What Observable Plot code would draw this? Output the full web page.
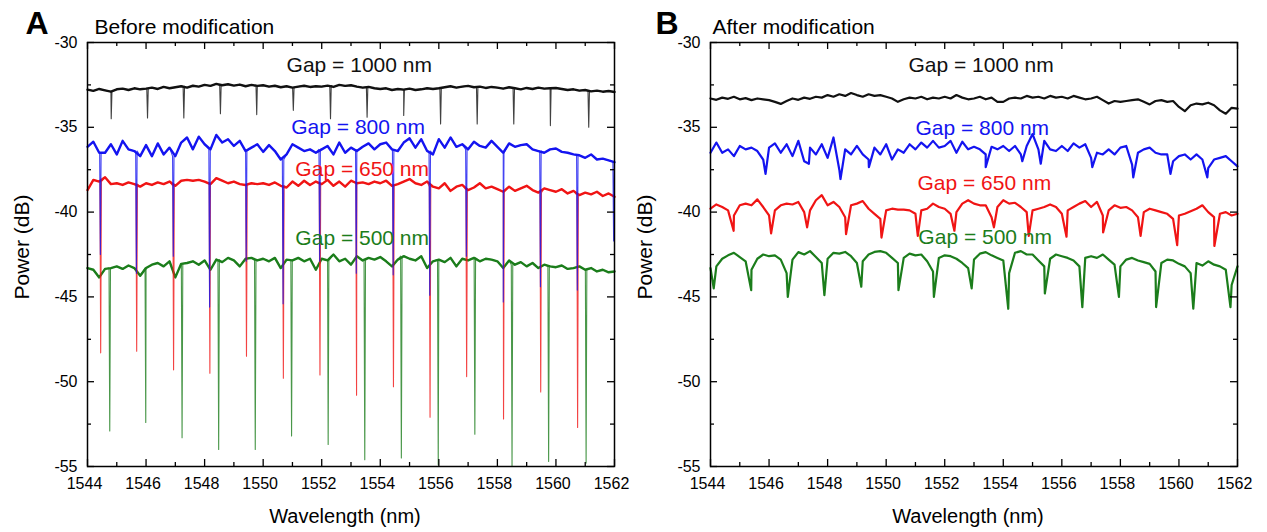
<!DOCTYPE html>
<html><head><meta charset="utf-8">
<script src="https://cdn.jsdelivr.net/npm/d3@7"></script>
<script src="https://cdn.jsdelivr.net/npm/@observablehq/plot@0.6"></script>
<style>
html,body{margin:0;padding:0;background:#fff;}
#wrap{position:relative;width:1267px;height:532px;overflow:hidden;font-family:"Liberation Sans",Arial,sans-serif;color:#000;}
.panel{position:absolute;top:0;}
.ytitle{position:absolute;font-size:21px;white-space:nowrap;transform:translate(-50%,-50%) rotate(-90deg);}
</style></head>
<body><div id="wrap"></div>
<script>
// ---------- sampling grid (nm) ----------
const xStart = 1544, xStep = 0.2;   // baseline values are read every 0.2 nm
const xMajor = [1544,1546,1548,1550,1552,1554,1556,1558,1560,1562];
const xMinor = [1545,1547,1549,1551,1553,1555,1557,1559,1561];
const yMajor = [-55,-50,-45,-40,-35,-30];
const yMinor = [-52.5,-47.5,-42.5,-37.5,-32.5];
const gapLabels = ["Gap = 1000 nm","Gap = 800 nm","Gap = 650 nm","Gap = 500 nm"];

// ---------- Panel A: before modification ----------
const aBlack = [
-32.78,-32.85,-32.74,-32.82,-32.9,-32.76,-32.72,-32.8,-32.7,-32.76,
-32.72,-32.66,-32.74,-32.62,-32.7,-32.64,-32.58,-32.66,-32.55,-32.6,
-32.5,-32.56,-32.44,-32.52,-32.46,-32.54,-32.48,-32.58,-32.5,-32.56,
-32.52,-32.6,-32.55,-32.64,-32.58,-32.66,-32.6,-32.55,-32.62,-32.58,
-32.6,-32.54,-32.62,-32.5,-32.56,-32.52,-32.6,-32.66,-32.62,-32.7,
-32.74,-32.7,-32.8,-32.74,-32.78,-32.72,-32.8,-32.76,-32.7,-32.74,
-32.7,-32.64,-32.58,-32.66,-32.6,-32.56,-32.64,-32.6,-32.68,-32.62,
-32.66,-32.72,-32.64,-32.7,-32.76,-32.68,-32.74,-32.66,-32.72,-32.7,
-32.68,-32.74,-32.8,-32.76,-32.84,-32.8,-32.88,-32.84,-32.9,-32.86,
-32.92];
const aBlackDips = [[1544.81,-34.5],[1546.05,-34.45],[1547.29,-34.45],[1548.54,-34.2],[1549.78,-34.25],[1551.03,-34.0],[1552.30,-34.5],[1553.55,-34.4],[1554.80,-34.3],[1556.06,-34.8],[1557.31,-34.8],[1558.56,-34.8],[1559.81,-34.9],[1561.12,-35.0]];

const aBlue = [
-36.15,-35.85,-36.5,-36.5,-36.0,-36.6,-35.8,-36.3,-36.4,-36.7,
-36.05,-36.7,-35.95,-36.6,-36.2,-36.7,-35.9,-35.6,-36.3,-35.55,
-36.0,-36.3,-35.45,-35.9,-35.7,-36.1,-35.8,-36.4,-36.2,-36.0,
-36.45,-36.05,-36.4,-36.9,-36.6,-36.0,-36.2,-36.4,-36.3,-36.5,
-36.3,-36.1,-36.6,-35.9,-36.5,-36.2,-36.4,-36.15,-35.95,-36.3,
-36.0,-35.9,-36.3,-36.4,-35.9,-35.65,-36.2,-35.7,-36.4,-36.6,
-35.7,-36.2,-35.6,-36.15,-36.0,-36.3,-35.85,-36.1,-36.2,-35.8,
-36.15,-36.5,-35.95,-36.15,-36.05,-36.0,-36.3,-36.4,-36.5,-36.3,
-36.25,-36.45,-36.5,-36.6,-36.65,-36.8,-36.6,-36.9,-36.85,-36.95,
-37.05];
const aBlueDips = [[1544.44,-42.5],[1545.67,-43.6],[1546.93,-42.6],[1548.17,-45.6],[1549.42,-42.9],[1550.68,-45.4],[1551.93,-42.9],[1553.18,-43.6],[1554.44,-43.7],[1555.69,-44.9],[1556.94,-42.6],[1558.20,-45.3],[1559.47,-44.4],[1560.73,-44.6],[1561.97,-41.7]];

const aRed = [
-38.7,-38.1,-38.2,-37.95,-38.35,-38.3,-38.4,-38.25,-38.35,-38.5,
-38.3,-38.4,-38.25,-38.35,-38.2,-38.45,-38.15,-38.1,-38.15,-38.1,
-38.2,-38.35,-38.0,-38.15,-38.3,-38.2,-38.35,-38.4,-38.3,-38.35,
-38.3,-38.4,-38.25,-38.45,-38.55,-38.2,-38.45,-38.15,-38.4,-38.2,
-38.35,-38.1,-38.45,-38.2,-38.5,-38.15,-38.3,-38.25,-38.35,-38.2,
-38.3,-38.15,-38.45,-38.35,-38.2,-38.05,-38.3,-38.4,-38.2,-38.5,
-38.6,-38.3,-38.75,-38.5,-38.4,-38.7,-38.55,-38.3,-38.6,-38.5,
-38.65,-38.8,-38.5,-38.75,-38.6,-38.45,-38.7,-38.85,-38.6,-38.7,
-38.8,-38.65,-38.9,-38.75,-39.0,-38.85,-38.95,-38.8,-39.05,-38.9,
-39.1];
const aRedDips = [[1544.45,-48.3],[1545.68,-48.2],[1546.94,-49.3],[1548.18,-49.5],[1549.43,-48.5],[1550.69,-49.8],[1551.94,-49.6],[1553.19,-50.8],[1554.45,-50.3],[1555.70,-52.1],[1556.95,-49.7],[1558.21,-52.2],[1559.48,-50.6],[1560.74,-52.7]];

const aGreen = [
-43.3,-43.4,-43.85,-43.35,-43.3,-43.2,-43.35,-43.15,-43.3,-43.75,
-43.3,-43.1,-43.0,-43.2,-42.9,-43.85,-43.05,-43.0,-42.9,-43.1,
-42.85,-43.4,-42.8,-42.95,-42.7,-42.85,-43.2,-42.75,-42.7,-42.85,
-42.75,-42.9,-42.7,-43.3,-42.8,-42.85,-42.7,-42.9,-42.75,-43.4,
-42.75,-42.85,-42.5,-42.9,-42.75,-43.1,-42.6,-42.85,-42.7,-42.8,
-42.65,-42.9,-43.2,-42.8,-42.6,-42.75,-42.85,-42.6,-43.3,-42.9,
-42.8,-42.95,-42.7,-43.2,-42.75,-42.85,-42.7,-42.9,-42.75,-42.8,
-42.9,-43.3,-42.85,-43.1,-42.95,-43.2,-43.0,-43.3,-43.1,-43.2,
-43.25,-43.15,-43.35,-43.3,-43.2,-43.4,-43.3,-43.5,-43.4,-43.55,
-43.5];
const aGreenDips = [[1544.76,-52.9],[1545.99,-52.4],[1547.23,-53.3],[1548.48,-54.0],[1549.73,-54.0],[1550.97,-53.2],[1552.22,-53.7],[1553.47,-54.6],[1554.72,-54.5],[1555.98,-54.9],[1557.23,-53.1],[1558.50,-55.0],[1559.75,-54.7],[1561.03,-54.8]];

// ---------- Panel B: after modification ----------
const bBlack = [
-33.3,-33.38,-33.25,-33.32,-33.2,-33.35,-33.28,-33.4,-33.3,-33.35,
-33.4,-33.5,-33.62,-33.45,-33.3,-33.38,-33.25,-33.32,-33.2,-33.25,
-33.1,-33.2,-33.05,-33.15,-32.98,-33.1,-33.2,-33.05,-33.15,-33.1,
-33.2,-33.3,-33.5,-33.35,-33.25,-33.3,-33.2,-33.35,-33.25,-33.3,
-33.2,-33.3,-33.1,-33.25,-33.35,-33.3,-33.2,-33.35,-33.25,-33.5,
-33.5,-33.3,-33.25,-33.3,-33.15,-33.25,-33.2,-33.3,-33.15,-33.25,
-33.2,-33.3,-33.15,-33.25,-33.35,-33.3,-33.2,-33.4,-33.6,-33.45,
-33.5,-33.45,-33.4,-33.35,-33.5,-33.65,-33.45,-33.4,-33.5,-33.45,
-33.8,-34.05,-33.7,-33.6,-33.65,-33.55,-33.7,-34.0,-34.2,-33.85,
-33.9];
const bBlackDips = [];

const bBlue = [
-36.5,-35.9,-36.5,-36.3,-36.7,-36.1,-36.3,-36.2,-36.4,-36.9,
-36.2,-35.95,-36.5,-36.0,-36.7,-35.8,-37.0,-36.2,-36.6,-36.0,
-36.8,-35.6,-37.5,-36.3,-36.6,-36.1,-36.6,-36.9,-36.2,-36.6,
-36.0,-36.9,-36.3,-36.5,-36.0,-36.3,-35.9,-36.2,-35.8,-36.2,
-36.1,-35.8,-36.5,-35.85,-36.3,-36.15,-36.3,-36.6,-36.15,-36.3,
-36.1,-36.4,-36.1,-36.6,-36.1,-35.4,-36.3,-35.8,-36.3,-36.4,
-36.1,-36.4,-35.95,-36.2,-36.0,-36.8,-36.5,-36.6,-36.3,-36.6,
-36.2,-36.1,-37.2,-36.5,-36.3,-36.2,-36.5,-36.6,-36.6,-37.0,
-36.7,-36.6,-36.9,-36.6,-36.9,-37.4,-36.9,-36.8,-36.7,-37.0,
-37.3];
const bBlueDips = [[1545.88,-37.75],[1547.36,-37.15],[1548.44,-38.05],[1549.41,-37.35],[1553.40,-37.35],[1554.65,-37.0],[1555.28,-37.15],[1557.04,-37.35],[1558.44,-37.95],[1559.71,-37.75],[1560.97,-37.95]];

const bRed = [
-39.8,-39.55,-39.7,-39.9,-40.2,-39.6,-39.5,-39.6,-39.25,-39.7,
-40.2,-39.9,-39.6,-39.5,-39.55,-39.4,-40.0,-39.9,-39.3,-39.0,
-39.6,-39.4,-39.7,-40.3,-39.6,-39.5,-39.35,-39.8,-40.1,-40.4,
-39.9,-39.8,-39.85,-39.85,-39.9,-40.1,-39.9,-39.8,-39.5,-39.7,
-39.8,-40.1,-40.0,-39.5,-39.3,-39.5,-39.6,-39.6,-40.3,-39.7,
-39.3,-39.5,-39.45,-39.7,-40.0,-39.9,-39.8,-39.7,-39.55,-39.7,
-40.1,-39.9,-39.7,-39.5,-39.35,-39.7,-39.4,-40.2,-39.9,-39.6,
-39.75,-39.7,-39.9,-40.3,-40.0,-39.8,-39.9,-40.0,-40.1,-40.4,
-40.2,-40.1,-39.95,-39.8,-39.6,-40.0,-40.3,-40.1,-40.0,-40.2,
-40.1];
const bRedDips = [[1544.79,-41.1],[1546.07,-41.25],[1547.30,-40.9],[1548.63,-41.3],[1549.84,-41.5],[1551.08,-41.4],[1552.33,-41.1],[1553.68,-40.9],[1554.87,-41.4],[1556.16,-41.45],[1557.41,-41.2],[1558.69,-41.4],[1559.94,-41.95],[1561.21,-42.0]];

const bGreen = [
-43.3,-43.2,-42.75,-42.55,-42.4,-42.65,-42.9,-43.4,-42.75,-42.5,
-42.6,-42.55,-42.8,-43.6,-42.8,-42.36,-42.5,-42.3,-42.65,-43.0,
-42.75,-42.4,-42.45,-42.35,-42.6,-43.0,-42.9,-42.5,-42.35,-42.3,
-42.4,-42.7,-43.0,-42.7,-42.45,-42.55,-42.5,-42.9,-43.5,-42.7,
-42.55,-42.6,-42.75,-43.0,-43.3,-42.8,-42.45,-42.36,-42.55,-42.7,
-42.85,-43.6,-42.4,-42.3,-42.5,-42.5,-42.85,-43.2,-42.75,-42.5,
-42.6,-42.7,-42.85,-43.2,-42.7,-42.6,-42.7,-42.5,-42.8,-43.1,
-43.2,-42.8,-42.7,-42.85,-42.95,-43.05,-43.5,-43.0,-42.8,-42.85,
-43.05,-43.2,-43.6,-43.0,-43.15,-42.9,-43.1,-43.2,-43.4,-44.3,
-43.2];
const bGreenDips = [[1544.11,-44.5],[1545.39,-44.6],[1546.64,-45.0],[1547.89,-44.9],[1549.15,-44.4],[1550.42,-44.6],[1551.63,-45.0],[1552.92,-44.5],[1554.17,-45.7],[1555.42,-44.8],[1556.70,-45.6],[1557.95,-45.0],[1559.22,-45.6],[1560.49,-45.7],[1561.76,-45.6]];

// ---------- styling ----------
const C = {black:"#111111", blue:"#1414f0", red:"#f01414", green:"#1b7d1b"};

const panels = [
  {letter:"A", title:"Before modification", left:0, width:633, letterDx:-62, titleDx:7,
   sharp:true, thin:1.1, thick:2.4,
   series:[
     {values:aBlack, dips:aBlackDips, color:C.black},
     {values:aGreen, dips:aGreenDips, color:C.green},
     {values:aRed, dips:aRedDips, color:C.red},
     {values:aBlue, dips:aBlueDips, color:C.blue}],
   labels:[[1550.8,-31.35,C.black],[1550.96,-35.0,C.blue],[1551.1,-37.5,C.red],[1551.1,-41.55,C.green]]},
  {letter:"B", title:"After modification", left:623, width:644, letterDx:-55, titleDx:2,
   sharp:false, thin:2.2, thick:0,
   series:[
     {values:bBlack, dips:bBlackDips, color:C.black},
     {values:bGreen, dips:bGreenDips, color:C.green},
     {values:bRed, dips:bRedDips, color:C.red},
     {values:bBlue, dips:bBlueDips, color:C.blue}],
   labels:[[1550.76,-31.35,C.black],[1551.0,-35.05,C.blue],[1551.07,-38.3,C.red],[1551.1,-41.5,C.green]]}
];

// join the read baseline samples and the read resonance minima into one trace
function trace(values, dips, sharp) {
  const base = values.map((y, i) => ({x: xStart + i * xStep, y}));
  const pts = base.slice();
  for (const [x, y] of dips) {
    if (sharp) {
      // very narrow resonance: leave from / return to the level of the nearest read sample
      const top = values[Math.round((x - xStart) / xStep)];
      pts.push({x: x - 0.025, y: top}, {x, y}, {x: x + 0.025, y: top});
    } else {
      pts.push({x, y});
    }
  }
  pts.sort((a, b) => a.x - b.x);
  return {base, pts};
}

function makePanel(p) {
  const H = 532, mL = 87, mT = 42, mB = 66, fw = 527;
  const mR = p.width - mL - fw;
  const fh = H - mT - mB;
  const marks = [];
  for (const s of p.series) {
    const {base, pts} = trace(s.values, s.dips, p.sharp);
    marks.push(Plot.line(pts, {x: "x", y: "y", stroke: s.color, strokeWidth: p.thin, strokeOpacity: p.sharp ? 0.8 : 1, strokeLinejoin: "round"}));
    if (p.thick) marks.push(Plot.line(base, {x: "x", y: "y", stroke: s.color, strokeWidth: p.thick, strokeLinejoin: "round"}));
  }
  // inward ticks on all four sides
  const tk = {stroke: "#000", strokeWidth: 1.3};
  marks.push(Plot.tickX(xMajor, {x: d => d, insetTop: fh - 7, ...tk}));
  marks.push(Plot.tickX(xMajor, {x: d => d, insetBottom: fh - 7, ...tk}));
  marks.push(Plot.tickX(xMinor, {x: d => d, insetTop: fh - 4, ...tk}));
  marks.push(Plot.tickX(xMinor, {x: d => d, insetBottom: fh - 4, ...tk}));
  marks.push(Plot.tickY(yMajor, {y: d => d, insetRight: fw - 7, ...tk}));
  marks.push(Plot.tickY(yMajor, {y: d => d, insetLeft: fw - 7, ...tk}));
  marks.push(Plot.tickY(yMinor, {y: d => d, insetRight: fw - 4, ...tk}));
  marks.push(Plot.tickY(yMinor, {y: d => d, insetLeft: fw - 4, ...tk}));
  marks.push(Plot.axisX({ticks: xMajor, tickSize: 0, tickPadding: 11, tickFormat: d => String(d), label: null, fontSize: 16, dx: -3}));
  marks.push(Plot.axisY({ticks: yMajor, tickSize: 0, tickPadding: 10, tickFormat: d => String(d), label: null, fontSize: 16}));
  marks.push(Plot.frame({stroke: "#000", strokeWidth: 1.5}));
  p.labels.forEach(([x, y, c], i) => {
    marks.push(Plot.text([gapLabels[i]], {x: () => x, y: () => y, text: d => d, fill: c, fontSize: 21, textAnchor: "start", lineAnchor: "middle"}));
  });
  marks.push(Plot.text([p.letter], {frameAnchor: "top-left", text: d => d, dx: p.letterDx, dy: -9, lineAnchor: "bottom", textAnchor: "start", fontSize: 32, fontWeight: "bold", fill: "#000"}));
  marks.push(Plot.text([p.title], {frameAnchor: "top-left", text: d => d, dx: p.titleDx, dy: -9, lineAnchor: "bottom", textAnchor: "start", fontSize: 21, fill: "#000"}));
  marks.push(Plot.text(["Wavelength (nm)"], {frameAnchor: "bottom", text: d => d, dx: -6, dy: 50, lineAnchor: "middle", fontSize: 20, fill: "#000"}));

  return Plot.plot({
    width: p.width, height: H,
    marginLeft: mL, marginRight: mR, marginTop: mT, marginBottom: mB,
    x: {domain: [1544, 1562]},
    y: {domain: [-55, -30]},
    style: {fontFamily: '"Liberation Sans", Arial, sans-serif', fontSize: "16px", color: "#000", background: "none", overflow: "visible"},
    marks
  });
}

const wrap = document.getElementById("wrap");
for (const p of panels) {
  const div = document.createElement("div");
  div.className = "panel";
  div.style.left = p.left + "px";
  div.appendChild(makePanel(p));
  wrap.appendChild(div);
  const yt = document.createElement("div");
  yt.className = "ytitle";
  yt.textContent = "Power (dB)";
  yt.style.left = (p.left + 22) + "px";
  yt.style.top = "247px";
  wrap.appendChild(yt);
}
</script>
</body></html>
